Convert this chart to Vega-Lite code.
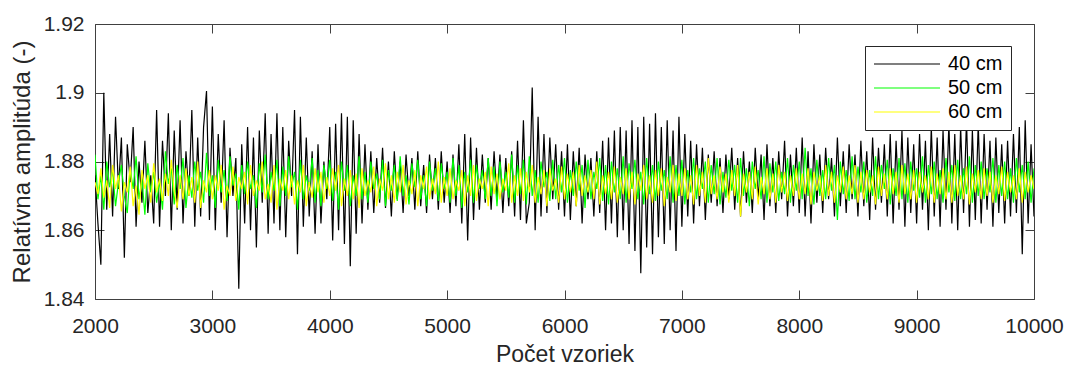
{
"$schema": "https://vega.github.io/schema/vega-lite/v6.json",
"width": 939,
"height": 275,
"autosize": {"type": "none"},
"padding": {"left": 95, "top": 24, "right": 32, "bottom": 66},
"background": "white",
"config": {"view": {"stroke": null}, "font": "Liberation Sans"},
"data": {"values": [
{"x":2000,"a":1.8760,"b":1.8820,"c":1.8740},
{"x":2025,"a":1.8620,"b":1.8690,"c":1.8705},
{"x":2050,"a":1.8500,"b":1.8760,"c":1.8780},
{"x":2075,"a":1.9000,"b":1.8660,"c":1.8695},
{"x":2100,"a":1.8660,"b":1.8800,"c":1.8745},
{"x":2125,"a":1.8880,"b":1.8725,"c":1.8665},
{"x":2150,"a":1.8640,"b":1.8775,"c":1.8790},
{"x":2175,"a":1.8930,"b":1.8670,"c":1.8720},
{"x":2200,"a":1.8720,"b":1.8740,"c":1.8760},
{"x":2225,"a":1.8870,"b":1.8790,"c":1.8655},
{"x":2250,"a":1.8520,"b":1.8700,"c":1.8740},
{"x":2275,"a":1.8850,"b":1.8650,"c":1.8710},
{"x":2300,"a":1.8740,"b":1.8780,"c":1.8785},
{"x":2325,"a":1.8900,"b":1.8720,"c":1.8670},
{"x":2350,"a":1.8610,"b":1.8815,"c":1.8730},
{"x":2375,"a":1.8800,"b":1.8690,"c":1.8645},
{"x":2400,"a":1.8680,"b":1.8750,"c":1.8775},
{"x":2425,"a":1.8860,"b":1.8645,"c":1.8720},
{"x":2450,"a":1.8650,"b":1.8795,"c":1.8760},
{"x":2475,"a":1.8760,"b":1.8710,"c":1.8680},
{"x":2500,"a":1.8620,"b":1.8770,"c":1.8795},
{"x":2525,"a":1.8950,"b":1.8680,"c":1.8710},
{"x":2550,"a":1.8610,"b":1.8745,"c":1.8750},
{"x":2575,"a":1.8860,"b":1.8660,"c":1.8685},
{"x":2600,"a":1.8700,"b":1.8830,"c":1.8765},
{"x":2625,"a":1.8940,"b":1.8735,"c":1.8700},
{"x":2650,"a":1.8600,"b":1.8780,"c":1.8805},
{"x":2675,"a":1.8890,"b":1.8675,"c":1.8715},
{"x":2700,"a":1.8660,"b":1.8790,"c":1.8665},
{"x":2725,"a":1.8920,"b":1.8720,"c":1.8760},
{"x":2750,"a":1.8620,"b":1.8810,"c":1.8690},
{"x":2775,"a":1.8830,"b":1.8665,"c":1.8780},
{"x":2800,"a":1.8700,"b":1.8760,"c":1.8700},
{"x":2825,"a":1.8950,"b":1.8695,"c":1.8755},
{"x":2850,"a":1.8610,"b":1.8800,"c":1.8680},
{"x":2875,"a":1.8870,"b":1.8715,"c":1.8800},
{"x":2900,"a":1.8640,"b":1.8770,"c":1.8665},
{"x":2925,"a":1.8900,"b":1.8680,"c":1.8745},
{"x":2950,"a":1.9005,"b":1.8825,"c":1.8710},
{"x":2975,"a":1.8630,"b":1.8700,"c":1.8775},
{"x":3000,"a":1.8960,"b":1.8760,"c":1.8690},
{"x":3025,"a":1.8600,"b":1.8665,"c":1.8760},
{"x":3050,"a":1.8880,"b":1.8805,"c":1.8715},
{"x":3075,"a":1.8680,"b":1.8710,"c":1.8790},
{"x":3100,"a":1.8920,"b":1.8775,"c":1.8660},
{"x":3125,"a":1.8580,"b":1.8685,"c":1.8730},
{"x":3150,"a":1.8840,"b":1.8815,"c":1.8700},
{"x":3175,"a":1.8700,"b":1.8730,"c":1.8785},
{"x":3200,"a":1.8810,"b":1.8765,"c":1.8685},
{"x":3225,"a":1.8430,"b":1.8660,"c":1.8755},
{"x":3250,"a":1.8850,"b":1.8790,"c":1.8720},
{"x":3275,"a":1.8620,"b":1.8705,"c":1.8770},
{"x":3300,"a":1.8900,"b":1.8800,"c":1.8675},
{"x":3325,"a":1.8600,"b":1.8720,"c":1.8790},
{"x":3350,"a":1.8870,"b":1.8760,"c":1.8700},
{"x":3375,"a":1.8550,"b":1.8665,"c":1.8745},
{"x":3400,"a":1.8890,"b":1.8795,"c":1.8715},
{"x":3425,"a":1.8680,"b":1.8710,"c":1.8800},
{"x":3450,"a":1.8940,"b":1.8820,"c":1.8690},
{"x":3475,"a":1.8590,"b":1.8690,"c":1.8735},
{"x":3500,"a":1.8880,"b":1.8770,"c":1.8680},
{"x":3525,"a":1.8620,"b":1.8715,"c":1.8790},
{"x":3550,"a":1.8940,"b":1.8805,"c":1.8660},
{"x":3575,"a":1.8600,"b":1.8670,"c":1.8750},
{"x":3600,"a":1.8900,"b":1.8785,"c":1.8715},
{"x":3625,"a":1.8580,"b":1.8700,"c":1.8775},
{"x":3650,"a":1.8860,"b":1.8815,"c":1.8690},
{"x":3675,"a":1.8700,"b":1.8725,"c":1.8760},
{"x":3700,"a":1.8950,"b":1.8770,"c":1.8675},
{"x":3725,"a":1.8530,"b":1.8660,"c":1.8745},
{"x":3750,"a":1.8930,"b":1.8805,"c":1.8710},
{"x":3775,"a":1.8610,"b":1.8690,"c":1.8790},
{"x":3800,"a":1.8870,"b":1.8760,"c":1.8670},
{"x":3825,"a":1.8640,"b":1.8715,"c":1.8740},
{"x":3850,"a":1.8830,"b":1.8810,"c":1.8695},
{"x":3875,"a":1.8590,"b":1.8680,"c":1.8780},
{"x":3900,"a":1.8850,"b":1.8775,"c":1.8710},
{"x":3925,"a":1.8620,"b":1.8670,"c":1.8770},
{"x":3950,"a":1.8800,"b":1.8790,"c":1.8680},
{"x":3975,"a":1.8690,"b":1.8720,"c":1.8755},
{"x":4000,"a":1.8900,"b":1.8805,"c":1.8700},
{"x":4025,"a":1.8570,"b":1.8685,"c":1.8780},
{"x":4050,"a":1.8910,"b":1.8770,"c":1.8715},
{"x":4075,"a":1.8600,"b":1.8660,"c":1.8790},
{"x":4100,"a":1.8940,"b":1.8800,"c":1.8670},
{"x":4125,"a":1.8560,"b":1.8715,"c":1.8750},
{"x":4150,"a":1.8930,"b":1.8790,"c":1.8700},
{"x":4175,"a":1.8495,"b":1.8670,"c":1.8775},
{"x":4200,"a":1.8920,"b":1.8760,"c":1.8690},
{"x":4225,"a":1.8590,"b":1.8700,"c":1.8765},
{"x":4250,"a":1.8880,"b":1.8815,"c":1.8665},
{"x":4275,"a":1.8620,"b":1.8690,"c":1.8780},
{"x":4300,"a":1.8850,"b":1.8770,"c":1.8700},
{"x":4325,"a":1.8660,"b":1.8680,"c":1.8745},
{"x":4350,"a":1.8830,"b":1.8800,"c":1.8710},
{"x":4375,"a":1.8650,"b":1.8720,"c":1.8785},
{"x":4400,"a":1.8810,"b":1.8765,"c":1.8670},
{"x":4425,"a":1.8680,"b":1.8690,"c":1.8750},
{"x":4450,"a":1.8840,"b":1.8805,"c":1.8715},
{"x":4475,"a":1.8665,"b":1.8670,"c":1.8795},
{"x":4500,"a":1.8800,"b":1.8775,"c":1.8690},
{"x":4525,"a":1.8640,"b":1.8715,"c":1.8760},
{"x":4550,"a":1.8830,"b":1.8790,"c":1.8680},
{"x":4575,"a":1.8690,"b":1.8685,"c":1.8770},
{"x":4600,"a":1.8800,"b":1.8815,"c":1.8710},
{"x":4625,"a":1.8650,"b":1.8700,"c":1.8790},
{"x":4650,"a":1.8820,"b":1.8760,"c":1.8675},
{"x":4675,"a":1.8700,"b":1.8675,"c":1.8745},
{"x":4700,"a":1.8810,"b":1.8795,"c":1.8705},
{"x":4725,"a":1.8660,"b":1.8725,"c":1.8775},
{"x":4750,"a":1.8830,"b":1.8805,"c":1.8670},
{"x":4775,"a":1.8670,"b":1.8690,"c":1.8760},
{"x":4800,"a":1.8790,"b":1.8760,"c":1.8720},
{"x":4825,"a":1.8650,"b":1.8670,"c":1.8785},
{"x":4850,"a":1.8820,"b":1.8800,"c":1.8690},
{"x":4875,"a":1.8690,"b":1.8715,"c":1.8750},
{"x":4900,"a":1.8810,"b":1.8780,"c":1.8705},
{"x":4925,"a":1.8660,"b":1.8685,"c":1.8800},
{"x":4950,"a":1.8830,"b":1.8795,"c":1.8680},
{"x":4975,"a":1.8680,"b":1.8720,"c":1.8755},
{"x":5000,"a":1.8800,"b":1.8770,"c":1.8700},
{"x":5025,"a":1.8650,"b":1.8680,"c":1.8780},
{"x":5050,"a":1.8820,"b":1.8810,"c":1.8690},
{"x":5075,"a":1.8670,"b":1.8700,"c":1.8745},
{"x":5100,"a":1.8850,"b":1.8790,"c":1.8715},
{"x":5125,"a":1.8620,"b":1.8665,"c":1.8775},
{"x":5150,"a":1.8880,"b":1.8770,"c":1.8670},
{"x":5175,"a":1.8570,"b":1.8710,"c":1.8760},
{"x":5200,"a":1.8870,"b":1.8805,"c":1.8700},
{"x":5225,"a":1.8630,"b":1.8680,"c":1.8790},
{"x":5250,"a":1.8840,"b":1.8790,"c":1.8685},
{"x":5275,"a":1.8660,"b":1.8720,"c":1.8750},
{"x":5300,"a":1.8820,"b":1.8775,"c":1.8720},
{"x":5325,"a":1.8680,"b":1.8690,"c":1.8770},
{"x":5350,"a":1.8810,"b":1.8810,"c":1.8670},
{"x":5375,"a":1.8660,"b":1.8700,"c":1.8785},
{"x":5400,"a":1.8830,"b":1.8785,"c":1.8705},
{"x":5425,"a":1.8690,"b":1.8670,"c":1.8765},
{"x":5450,"a":1.8820,"b":1.8800,"c":1.8690},
{"x":5475,"a":1.8650,"b":1.8710,"c":1.8750},
{"x":5500,"a":1.8810,"b":1.8770,"c":1.8715},
{"x":5525,"a":1.8670,"b":1.8695,"c":1.8795},
{"x":5550,"a":1.8830,"b":1.8820,"c":1.8680},
{"x":5575,"a":1.8640,"b":1.8680,"c":1.8760},
{"x":5600,"a":1.8860,"b":1.8790,"c":1.8700},
{"x":5625,"a":1.8630,"b":1.8705,"c":1.8780},
{"x":5650,"a":1.8920,"b":1.8805,"c":1.8685},
{"x":5675,"a":1.8620,"b":1.8675,"c":1.8770},
{"x":5700,"a":1.8680,"b":1.8815,"c":1.8710},
{"x":5725,"a":1.9015,"b":1.8700,"c":1.8790},
{"x":5750,"a":1.8600,"b":1.8775,"c":1.8680},
{"x":5775,"a":1.8930,"b":1.8680,"c":1.8755},
{"x":5800,"a":1.8640,"b":1.8800,"c":1.8705},
{"x":5825,"a":1.8880,"b":1.8725,"c":1.8775},
{"x":5850,"a":1.8650,"b":1.8770,"c":1.8670},
{"x":5875,"a":1.8870,"b":1.8685,"c":1.8780},
{"x":5900,"a":1.8690,"b":1.8805,"c":1.8715},
{"x":5925,"a":1.8850,"b":1.8690,"c":1.8750},
{"x":5950,"a":1.8660,"b":1.8790,"c":1.8680},
{"x":5975,"a":1.8830,"b":1.8710,"c":1.8785},
{"x":6000,"a":1.8640,"b":1.8810,"c":1.8690},
{"x":6025,"a":1.8850,"b":1.8680,"c":1.8765},
{"x":6050,"a":1.8630,"b":1.8775,"c":1.8710},
{"x":6075,"a":1.8830,"b":1.8700,"c":1.8770},
{"x":6100,"a":1.8670,"b":1.8800,"c":1.8670},
{"x":6125,"a":1.8840,"b":1.8715,"c":1.8790},
{"x":6150,"a":1.8620,"b":1.8790,"c":1.8700},
{"x":6175,"a":1.8820,"b":1.8665,"c":1.8760},
{"x":6200,"a":1.8690,"b":1.8805,"c":1.8710},
{"x":6225,"a":1.8810,"b":1.8690,"c":1.8775},
{"x":6250,"a":1.8640,"b":1.8770,"c":1.8690},
{"x":6275,"a":1.8830,"b":1.8720,"c":1.8800},
{"x":6300,"a":1.8650,"b":1.8810,"c":1.8675},
{"x":6325,"a":1.8860,"b":1.8685,"c":1.8760},
{"x":6350,"a":1.8600,"b":1.8790,"c":1.8705},
{"x":6375,"a":1.8870,"b":1.8675,"c":1.8770},
{"x":6400,"a":1.8620,"b":1.8800,"c":1.8690},
{"x":6425,"a":1.8890,"b":1.8710,"c":1.8785},
{"x":6450,"a":1.8580,"b":1.8780,"c":1.8680},
{"x":6475,"a":1.8900,"b":1.8690,"c":1.8755},
{"x":6500,"a":1.8600,"b":1.8815,"c":1.8705},
{"x":6525,"a":1.8890,"b":1.8680,"c":1.8780},
{"x":6550,"a":1.8560,"b":1.8795,"c":1.8690},
{"x":6575,"a":1.8920,"b":1.8720,"c":1.8770},
{"x":6600,"a":1.8540,"b":1.8805,"c":1.8675},
{"x":6625,"a":1.8900,"b":1.8690,"c":1.8765},
{"x":6650,"a":1.8475,"b":1.8770,"c":1.8715},
{"x":6675,"a":1.8930,"b":1.8675,"c":1.8790},
{"x":6700,"a":1.8550,"b":1.8810,"c":1.8690},
{"x":6725,"a":1.8910,"b":1.8705,"c":1.8760},
{"x":6750,"a":1.8530,"b":1.8790,"c":1.8680},
{"x":6775,"a":1.8940,"b":1.8685,"c":1.8775},
{"x":6800,"a":1.8580,"b":1.8800,"c":1.8700},
{"x":6825,"a":1.8900,"b":1.8715,"c":1.8780},
{"x":6850,"a":1.8560,"b":1.8775,"c":1.8670},
{"x":6875,"a":1.8920,"b":1.8690,"c":1.8755},
{"x":6900,"a":1.8600,"b":1.8815,"c":1.8710},
{"x":6925,"a":1.8890,"b":1.8680,"c":1.8790},
{"x":6950,"a":1.8540,"b":1.8790,"c":1.8685},
{"x":6975,"a":1.8930,"b":1.8700,"c":1.8765},
{"x":7000,"a":1.8610,"b":1.8805,"c":1.8700},
{"x":7025,"a":1.8880,"b":1.8675,"c":1.8780},
{"x":7050,"a":1.8640,"b":1.8775,"c":1.8690},
{"x":7075,"a":1.8860,"b":1.8710,"c":1.8760},
{"x":7100,"a":1.8620,"b":1.8810,"c":1.8675},
{"x":7125,"a":1.8850,"b":1.8690,"c":1.8790},
{"x":7150,"a":1.8670,"b":1.8780,"c":1.8700},
{"x":7175,"a":1.8840,"b":1.8720,"c":1.8770},
{"x":7200,"a":1.8630,"b":1.8800,"c":1.8680},
{"x":7225,"a":1.8820,"b":1.8680,"c":1.8810},
{"x":7250,"a":1.8680,"b":1.8790,"c":1.8705},
{"x":7275,"a":1.8830,"b":1.8705,"c":1.8760},
{"x":7300,"a":1.8670,"b":1.8810,"c":1.8690},
{"x":7325,"a":1.8810,"b":1.8675,"c":1.8785},
{"x":7350,"a":1.8650,"b":1.8770,"c":1.8710},
{"x":7375,"a":1.8820,"b":1.8695,"c":1.8765},
{"x":7400,"a":1.8690,"b":1.8805,"c":1.8680},
{"x":7425,"a":1.8840,"b":1.8715,"c":1.8775},
{"x":7450,"a":1.8660,"b":1.8790,"c":1.8700},
{"x":7475,"a":1.8810,"b":1.8680,"c":1.8790},
{"x":7500,"a":1.8640,"b":1.8810,"c":1.8640},
{"x":7525,"a":1.8830,"b":1.8700,"c":1.8765},
{"x":7550,"a":1.8680,"b":1.8780,"c":1.8710},
{"x":7575,"a":1.8800,"b":1.8670,"c":1.8770},
{"x":7600,"a":1.8650,"b":1.8800,"c":1.8690},
{"x":7625,"a":1.8840,"b":1.8720,"c":1.8785},
{"x":7650,"a":1.8690,"b":1.8775,"c":1.8675},
{"x":7675,"a":1.8820,"b":1.8690,"c":1.8755},
{"x":7700,"a":1.8630,"b":1.8815,"c":1.8705},
{"x":7725,"a":1.8850,"b":1.8680,"c":1.8780},
{"x":7750,"a":1.8670,"b":1.8795,"c":1.8690},
{"x":7775,"a":1.8810,"b":1.8710,"c":1.8765},
{"x":7800,"a":1.8650,"b":1.8800,"c":1.8680},
{"x":7825,"a":1.8830,"b":1.8685,"c":1.8790},
{"x":7850,"a":1.8690,"b":1.8770,"c":1.8710},
{"x":7875,"a":1.8860,"b":1.8705,"c":1.8770},
{"x":7900,"a":1.8640,"b":1.8810,"c":1.8685},
{"x":7925,"a":1.8820,"b":1.8680,"c":1.8760},
{"x":7950,"a":1.8670,"b":1.8790,"c":1.8700},
{"x":7975,"a":1.8840,"b":1.8715,"c":1.8780},
{"x":8000,"a":1.8650,"b":1.8800,"c":1.8690},
{"x":8025,"a":1.8870,"b":1.8690,"c":1.8765},
{"x":8050,"a":1.8640,"b":1.8840,"c":1.8705},
{"x":8075,"a":1.8830,"b":1.8700,"c":1.8780},
{"x":8100,"a":1.8620,"b":1.8780,"c":1.8675},
{"x":8125,"a":1.8850,"b":1.8675,"c":1.8770},
{"x":8150,"a":1.8680,"b":1.8805,"c":1.8715},
{"x":8175,"a":1.8820,"b":1.8700,"c":1.8760},
{"x":8200,"a":1.8650,"b":1.8775,"c":1.8685},
{"x":8225,"a":1.8840,"b":1.8690,"c":1.8790},
{"x":8250,"a":1.8690,"b":1.8810,"c":1.8700},
{"x":8275,"a":1.8810,"b":1.8715,"c":1.8770},
{"x":8300,"a":1.8640,"b":1.8790,"c":1.8680},
{"x":8325,"a":1.8870,"b":1.8630,"c":1.8760},
{"x":8350,"a":1.8670,"b":1.8800,"c":1.8710},
{"x":8375,"a":1.8830,"b":1.8705,"c":1.8785},
{"x":8400,"a":1.8650,"b":1.8775,"c":1.8690},
{"x":8425,"a":1.8850,"b":1.8685,"c":1.8760},
{"x":8450,"a":1.8690,"b":1.8815,"c":1.8705},
{"x":8475,"a":1.8820,"b":1.8690,"c":1.8790},
{"x":8500,"a":1.8640,"b":1.8785,"c":1.8680},
{"x":8525,"a":1.8860,"b":1.8710,"c":1.8770},
{"x":8550,"a":1.8670,"b":1.8800,"c":1.8690},
{"x":8575,"a":1.8830,"b":1.8680,"c":1.8775},
{"x":8600,"a":1.8630,"b":1.8775,"c":1.8710},
{"x":8625,"a":1.8870,"b":1.8700,"c":1.8760},
{"x":8650,"a":1.8660,"b":1.8815,"c":1.8675},
{"x":8675,"a":1.8840,"b":1.8690,"c":1.8785},
{"x":8700,"a":1.8680,"b":1.8790,"c":1.8700},
{"x":8725,"a":1.8850,"b":1.8720,"c":1.8765},
{"x":8750,"a":1.8640,"b":1.8805,"c":1.8690},
{"x":8775,"a":1.8880,"b":1.8675,"c":1.8780},
{"x":8800,"a":1.8620,"b":1.8780,"c":1.8705},
{"x":8825,"a":1.8860,"b":1.8700,"c":1.8770},
{"x":8850,"a":1.8660,"b":1.8810,"c":1.8680},
{"x":8875,"a":1.8890,"b":1.8690,"c":1.8790},
{"x":8900,"a":1.8610,"b":1.8795,"c":1.8705},
{"x":8925,"a":1.8870,"b":1.8680,"c":1.8765},
{"x":8950,"a":1.8650,"b":1.8800,"c":1.8690},
{"x":8975,"a":1.8850,"b":1.8715,"c":1.8775},
{"x":9000,"a":1.8620,"b":1.8780,"c":1.8680},
{"x":9025,"a":1.8880,"b":1.8695,"c":1.8770},
{"x":9050,"a":1.8660,"b":1.8815,"c":1.8710},
{"x":9075,"a":1.8860,"b":1.8680,"c":1.8760},
{"x":9100,"a":1.8600,"b":1.8790,"c":1.8690},
{"x":9125,"a":1.8900,"b":1.8705,"c":1.8785},
{"x":9150,"a":1.8640,"b":1.8800,"c":1.8680},
{"x":9175,"a":1.8870,"b":1.8690,"c":1.8765},
{"x":9200,"a":1.8610,"b":1.8775,"c":1.8705},
{"x":9225,"a":1.8890,"b":1.8680,"c":1.8780},
{"x":9250,"a":1.8660,"b":1.8810,"c":1.8690},
{"x":9275,"a":1.8910,"b":1.8710,"c":1.8770},
{"x":9300,"a":1.8620,"b":1.8790,"c":1.8680},
{"x":9325,"a":1.8880,"b":1.8685,"c":1.8790},
{"x":9350,"a":1.8600,"b":1.8805,"c":1.8700},
{"x":9375,"a":1.8900,"b":1.8690,"c":1.8760},
{"x":9400,"a":1.8650,"b":1.8780,"c":1.8690},
{"x":9425,"a":1.8920,"b":1.8705,"c":1.8785},
{"x":9450,"a":1.8610,"b":1.8815,"c":1.8675},
{"x":9475,"a":1.8890,"b":1.8680,"c":1.8765},
{"x":9500,"a":1.8630,"b":1.8790,"c":1.8710},
{"x":9525,"a":1.8910,"b":1.8700,"c":1.8775},
{"x":9550,"a":1.8620,"b":1.8800,"c":1.8690},
{"x":9575,"a":1.8880,"b":1.8690,"c":1.8780},
{"x":9600,"a":1.8660,"b":1.8780,"c":1.8700},
{"x":9625,"a":1.8860,"b":1.8710,"c":1.8770},
{"x":9650,"a":1.8610,"b":1.8810,"c":1.8680},
{"x":9675,"a":1.8870,"b":1.8680,"c":1.8760},
{"x":9700,"a":1.8650,"b":1.8790,"c":1.8705},
{"x":9725,"a":1.8850,"b":1.8700,"c":1.8785},
{"x":9750,"a":1.8620,"b":1.8800,"c":1.8685},
{"x":9775,"a":1.8860,"b":1.8690,"c":1.8770},
{"x":9800,"a":1.8640,"b":1.8780,"c":1.8710},
{"x":9825,"a":1.8880,"b":1.8680,"c":1.8760},
{"x":9850,"a":1.8650,"b":1.8810,"c":1.8690},
{"x":9875,"a":1.8900,"b":1.8710,"c":1.8780},
{"x":9900,"a":1.8530,"b":1.8790,"c":1.8680},
{"x":9925,"a":1.8920,"b":1.8690,"c":1.8770},
{"x":9950,"a":1.8620,"b":1.8800,"c":1.8710},
{"x":9975,"a":1.8850,"b":1.8680,"c":1.8760},
{"x":10000,"a":1.8640,"b":1.8780,"c":1.8720}
]},
"layer": [
{
"mark": {"type": "line", "strokeWidth": 1.2, "clip": true},
"encoding": {
"x": {"field": "x", "type": "quantitative",
"scale": {"domain": [2000, 10000], "nice": false, "zero": false},
"axis": {"orient": "bottom", "values": [2000,3000,4000,5000,6000,7000,8000,9000,10000], "format": "d",
"ticks": false, "tickSize": 0, "labelPadding": 16, "labelFlush": false, "labelOverlap": false,
"labelFontSize": 21, "labelColor": "#262626", "labelFont": "Liberation Sans",
"domainColor": "#404040", "domainWidth": 1, "grid": false,
"title": "Počet vzoriek", "titleFontSize": 23, "titleFontWeight": "normal", "titleColor": "#262626", "titleFont": "Liberation Sans", "titlePadding": 7}},
"y": {"field": "a", "type": "quantitative",
"scale": {"domain": [1.84, 1.92], "nice": false, "zero": false},
"axis": {"orient": "left", "values": [1.84,1.86,1.88,1.9,1.92], "format": "~g",
"ticks": false, "tickSize": 0, "labelPadding": 11, "labelFlush": false, "labelOverlap": false,
"labelFontSize": 21, "labelColor": "#262626", "labelFont": "Liberation Sans",
"domainColor": "#404040", "domainWidth": 1, "grid": false,
"title": "Relatívna amplitúda (-)", "titleFontSize": 24, "titleFontWeight": "normal", "titleColor": "#262626", "titleFont": "Liberation Sans", "titlePadding": 9}},
"color": {"datum": "40 cm", "type": "nominal",
"scale": {"domain": ["40 cm", "50 cm", "60 cm"], "range": ["#000000", "#00ff00", "#ffff00"]},
"legend": {"orient": "none", "legendX": 770, "legendY": 22, "title": null,
"symbolType": "stroke", "symbolSize": 4356, "symbolStrokeWidth": 1.2, "clipHeight": 20,
"labelFontSize": 20, "labelFont": "Liberation Sans", "labelColor": "#000000", "labelOffset": 7,
"strokeColor": "#262626", "fillColor": "white", "padding": 8, "rowPadding": 4}}
}
},
{
"mark": {"type": "line", "strokeWidth": 1.2, "clip": true},
"encoding": {
"x": {"field": "x", "type": "quantitative",
"axis": {"orient": "bottom", "values": [2000,3000,4000,5000,6000,7000,8000,9000,10000],
"labels": false, "domain": false, "grid": false, "tickSize": -9, "tickColor": "#404040", "title": null}},
"y": {"field": "b", "type": "quantitative",
"axis": {"orient": "left", "values": [1.84,1.86,1.88,1.9,1.92],
"labels": false, "domain": false, "grid": false, "tickSize": -9, "tickColor": "#404040", "title": null}},
"color": {"datum": "50 cm", "type": "nominal"}
}
},
{
"mark": {"type": "line", "strokeWidth": 1.2, "clip": true},
"encoding": {
"x": {"field": "x", "type": "quantitative",
"axis": {"orient": "top", "values": [2000,3000,4000,5000,6000,7000,8000,9000,10000],
"labels": false, "domainColor": "#404040", "grid": false, "tickSize": -9, "tickColor": "#404040", "title": null}},
"y": {"field": "c", "type": "quantitative",
"axis": {"orient": "right", "values": [1.84,1.86,1.88,1.9,1.92],
"labels": false, "domainColor": "#404040", "grid": false, "tickSize": -9, "tickColor": "#404040", "title": null}},
"color": {"datum": "60 cm", "type": "nominal"}
}
}
],
"resolve": {"axis": {"x": "independent", "y": "independent"}}
}
